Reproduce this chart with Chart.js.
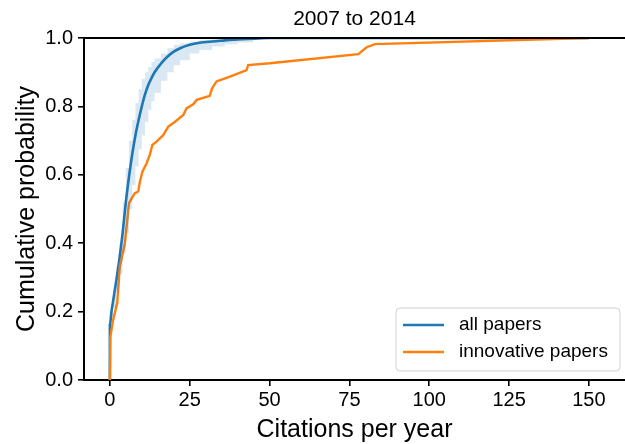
<!DOCTYPE html>
<html>
<head>
<meta charset="utf-8">
<script src="https://cdn.jsdelivr.net/npm/chart.js@4"></script>
<style>
  html, body { margin: 0; padding: 0; background: #fff; }
  #wrap { width: 625px; height: 444px; }
</style>
</head>
<body>
<div id="wrap"><canvas id="c" width="625" height="444"></canvas></div>
<script>
// ---- data ----
const titleText = "2007 to 2014";
const seriesNames = ["all papers", "innovative papers"];
const xTicks = [0, 25, 50, 75, 100, 125, 150];
const yTicks = [0.0, 0.2, 0.4, 0.6, 0.8, 1.0];

// all papers: ECDF (citations per year -> cumulative probability)
const allX = [0, 0, 0.5, 1, 2, 3, 4, 5, 6, 7, 8, 9, 10, 11, 12, 13, 14, 16, 18, 20, 22, 25, 28, 32, 36, 40, 45, 50, 150];
const allY = [0, 0.16, 0.20, 0.23, 0.29, 0.355, 0.43, 0.52, 0.595, 0.66, 0.715, 0.76, 0.80, 0.835, 0.862, 0.882, 0.90, 0.925, 0.945, 0.96, 0.97, 0.98, 0.986, 0.99, 0.993, 0.996, 0.998, 1.0, 1.0];

// confidence band around "all papers"
const bandX = [0, 0.5, 1, 2, 3, 4, 5, 6, 7, 8, 9, 10, 11, 12, 13, 14, 16, 18, 20, 22, 25, 28, 32, 36, 40, 45];
const bandHi = [0.19, 0.22, 0.25, 0.33, 0.40, 0.52, 0.62, 0.70, 0.76, 0.81, 0.85, 0.88, 0.90, 0.915, 0.93, 0.94, 0.955, 0.97, 0.98, 0.985, 0.99, 0.995, 0.998, 1.0, 1.0, 1.0];
const bandLo = [0.15, 0.185, 0.21, 0.255, 0.31, 0.37, 0.43, 0.50, 0.57, 0.625, 0.675, 0.715, 0.755, 0.79, 0.815, 0.84, 0.875, 0.90, 0.92, 0.935, 0.955, 0.965, 0.975, 0.982, 0.987, 0.99];

// innovative papers
const innX = [0, 0.15, 1.0, 2.3, 3.1, 4.7, 6.0, 7.8, 8.9, 9.4, 10.2, 11.5, 12.5, 13.3, 14.6, 16.7, 18.3, 20.4, 23.0, 24.0, 26.1, 27.2, 31.3, 32.0, 33.4, 37.6, 42.8, 43.3, 50.1, 77.8, 80.4, 83.0, 150];
const innY = [0, 0.126, 0.175, 0.225, 0.33, 0.40, 0.517, 0.546, 0.551, 0.58, 0.609, 0.634, 0.658, 0.687, 0.697, 0.716, 0.741, 0.755, 0.775, 0.794, 0.806, 0.819, 0.831, 0.853, 0.873, 0.887, 0.906, 0.921, 0.926, 0.953, 0.973, 0.982, 1.0];

const pts = (xs, ys) => xs.map((x, i) => ({ x: x, y: ys[i] }));

const BLUE = '#1f77b4';
const ORANGE = '#ff7f0e';
const FONT = "'Liberation Sans', Arial, Helvetica, sans-serif";

const chromePlugin = {
  id: 'chrome',
  afterDraw(chart) {
    const { ctx, chartArea: a } = chart;
    ctx.save();
    // top spine
    ctx.strokeStyle = '#000';
    ctx.lineWidth = 2;
    ctx.beginPath();
    ctx.moveTo(a.left - 1, a.top);
    ctx.lineTo(a.right, a.top);
    ctx.stroke();
    // title, centred over the axes
    ctx.fillStyle = '#000';
    ctx.font = '21px ' + FONT;
    ctx.textAlign = 'center';
    ctx.textBaseline = 'middle';
    ctx.fillText(titleText, (a.left + a.right) / 2, 19);
    // legend
    const bx = 396, by = 308, bw = 224, bh = 63, r = 4;
    ctx.fillStyle = 'rgba(255,255,255,0.85)';
    ctx.strokeStyle = '#d0d0d0';
    ctx.lineWidth = 1;
    ctx.beginPath();
    ctx.moveTo(bx + r, by);
    ctx.lineTo(bx + bw - r, by);
    ctx.arcTo(bx + bw, by, bx + bw, by + r, r);
    ctx.lineTo(bx + bw, by + bh - r);
    ctx.arcTo(bx + bw, by + bh, bx + bw - r, by + bh, r);
    ctx.lineTo(bx + r, by + bh);
    ctx.arcTo(bx, by + bh, bx, by + bh - r, r);
    ctx.lineTo(bx, by + r);
    ctx.arcTo(bx, by, bx + r, by, r);
    ctx.closePath();
    ctx.fill();
    ctx.stroke();
    const cols = [BLUE, ORANGE];
    const ys = [325, 352];
    ctx.font = '19px ' + FONT;
    ctx.textBaseline = 'middle';
    ctx.textAlign = 'left';
    for (let i = 0; i < 2; i++) {
      ctx.strokeStyle = cols[i];
      ctx.lineWidth = 2.5;
      ctx.beginPath();
      ctx.moveTo(403, ys[i]);
      ctx.lineTo(444, ys[i]);
      ctx.stroke();
      ctx.fillStyle = '#000';
      ctx.fillText(seriesNames[i], 459, ys[i]);
    }
    ctx.restore();
  }
};

new Chart(document.getElementById('c'), {
  type: 'scatter',
  data: {
    datasets: [
      { label: 'band-lo', data: pts(bandX, bandLo), showLine: true, borderWidth: 0, borderColor: 'rgba(0,0,0,0)', pointRadius: 0, stepped: true, fill: false },
      { label: 'band-hi', data: pts(bandX, bandHi), showLine: true, borderWidth: 0, borderColor: 'rgba(0,0,0,0)', pointRadius: 0, stepped: true, fill: '-1', backgroundColor: 'rgba(31,119,180,0.17)' },
      { label: seriesNames[1], data: pts(innX, innY), showLine: true, borderColor: ORANGE, borderWidth: 2.4, pointRadius: 0, fill: false },
      { label: seriesNames[0], data: pts(allX, allY), showLine: true, borderColor: BLUE, borderWidth: 2.6, pointRadius: 0, fill: false, cubicInterpolationMode: 'monotone' }
    ]
  },
  options: {
    responsive: false,
    animation: false,
    layout: { padding: { left: 0, right: 0, top: 38, bottom: 0 } },
    plugins: {
      legend: { display: false },
      tooltip: { enabled: false },
      title: { display: false }
    },
    scales: {
      x: {
        type: 'linear', min: -8.1, max: 161.3,
        afterBuildTicks: s => { s.ticks = xTicks.map(v => ({ value: v })); },
        afterFit: s => { s.height = 64; },
        grid: { drawOnChartArea: false, drawTicks: true, tickLength: 6, color: '#000', lineWidth: 1.6 },
        border: { display: true, color: '#000', width: 2 },
        ticks: { color: '#000', font: { family: FONT, size: 20 }, padding: 2, maxRotation: 0 },
        title: { display: true, text: 'Citations per year', color: '#000', font: { family: FONT, size: 25, lineHeight: 1.1 }, padding: { top: 0, bottom: 0 } }
      },
      y: {
        type: 'linear', min: 0, max: 1,
        afterBuildTicks: s => { s.ticks = yTicks.map(v => ({ value: v })); },
        afterFit: s => { s.width = 84; },
        grid: { drawOnChartArea: false, drawTicks: true, tickLength: 6, color: '#000', lineWidth: 1.6 },
        border: { display: true, color: '#000', width: 2 },
        ticks: { color: '#000', font: { family: FONT, size: 20 }, padding: 5, callback: v => v.toFixed(1) },
        title: { display: true, text: 'Cumulative probability', color: '#000', font: { family: FONT, size: 25, lineHeight: 1.1 }, padding: { top: 13, bottom: 0 } }
      }
    }
  },
  plugins: [chromePlugin]
});
</script>
</body>
</html>
